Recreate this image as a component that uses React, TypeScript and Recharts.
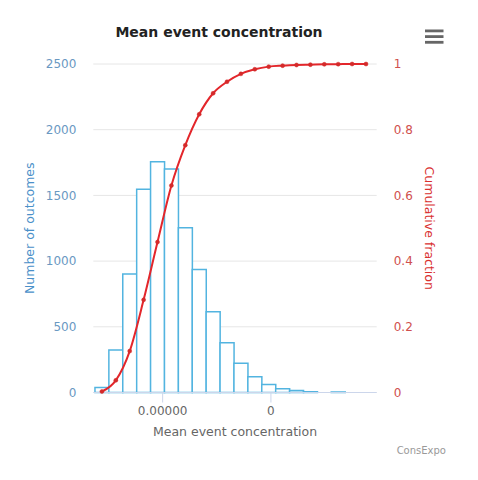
import React from 'react';
import { ComposedChart, Bar, Line, XAxis, YAxis, CartesianGrid } from 'recharts';

// Bin centres (concentration axis, in bin units) and values
const binCenters = [0.5, 1.5, 2.5, 3.5, 4.5, 5.5, 6.5, 7.5, 8.5, 9.5, 10.5, 11.5, 12.5, 13.5, 14.5, 15.5, 16.5, 17.5, 18.5, 19.5];
const counts = [39, 323, 902, 1546, 1757, 1701, 1254, 937, 615, 379, 222, 120, 61, 28, 15, 5, 0, 3, 0, 0];
const cumulative = [0.003, 0.037, 0.126, 0.282, 0.458, 0.63, 0.753, 0.847, 0.911, 0.946, 0.97, 0.984, 0.992, 0.995, 0.997, 0.998, 0.999, 0.9995, 1, 1];

const xTickValues = [4.87, 12.66];
const xTickLabels = ['0.00000', '0'];
const leftTicks = [0, 500, 1000, 1500, 2000, 2500];
const rightTicks = [0, 0.2, 0.4, 0.6, 0.8, 1];

const data = binCenters.map((x, i) => ({ x, count: counts[i], cum: cumulative[i] }));

const FONT = '"DejaVu Sans", Verdana, sans-serif';

const LeftTitle = (props: any) => {
  const vb = props.viewBox || {};
  const cx = vb.x + 29.5;
  const cy = vb.y + vb.height / 2;
  return (
    <text x={cx} y={cy} transform={`rotate(-90 ${cx} ${cy})`} textAnchor="middle" dominantBaseline="central"
      fontFamily={FONT} fontSize={12.5} fill="#4a90c9">Number of outcomes</text>
  );
};

const RightTitle = (props: any) => {
  const vb = props.viewBox || {};
  const cx = vb.x + 52.3;
  const cy = vb.y + vb.height / 2;
  return (
    <text x={cx} y={cy} transform={`rotate(90 ${cx} ${cy})`} textAnchor="middle" dominantBaseline="central"
      fontFamily={FONT} fontSize={12.5} fill="#d9302f">Cumulative fraction</text>
  );
};

const BottomTitle = (props: any) => {
  const vb = props.viewBox || {};
  const cx = vb.x + vb.width / 2;
  const cy = vb.y + 39.2;
  return (
    <text x={cx} y={cy} textAnchor="middle" dominantBaseline="central"
      fontFamily={FONT} fontSize={12.5} fill="#666666">Mean event concentration</text>
  );
};

export default function App() {
  return (
    <div style={{ position: 'absolute', left: 0, top: 0, width: 478, height: 480, background: '#fff' }}>
      <ComposedChart width={478} height={480} data={data} margin={{ top: 64, right: 0, bottom: 0, left: 0 }}
        barCategoryGap={0} barGap={0}>
        <CartesianGrid yAxisId="left" vertical={false} stroke="#e6e6e6" strokeWidth={1} />
        <XAxis dataKey="x" type="number" domain={[-0.12, 20.27]} allowDataOverflow ticks={xTickValues}
          tickFormatter={(v: number) => xTickLabels[xTickValues.indexOf(v)] ?? ''}
          height={87.5} axisLine={{ stroke: '#ccd6eb' }} tickLine={{ stroke: '#ccd6eb' }} tickSize={10} tickMargin={3.5}
          tick={{ fill: '#666666', fontSize: 12, fontFamily: FONT }} label={<BottomTitle />} />
        <YAxis yAxisId="left" orientation="left" width={93.3} domain={[0, 2500]} ticks={leftTicks}
          axisLine={false} tickLine={false} tickMargin={11} interval={0}
          tick={{ fill: '#6a98c2', fontSize: 12, fontFamily: FONT }} label={<LeftTitle />} />
        <YAxis yAxisId="right" orientation="right" width={101.3} domain={[0, 1]} ticks={rightTicks}
          axisLine={false} tickLine={false} tickMargin={11} interval={0}
          tick={{ fill: '#d0504d', fontSize: 12, fontFamily: FONT }} label={<RightTitle />} />
        <Bar yAxisId="left" dataKey="count" fill="#ffffff" stroke="#52b4e0" strokeWidth={1.5} isAnimationActive={false} />
        <Line yAxisId="right" dataKey="cum" type="monotone" stroke="#e3262b" strokeWidth={2}
          dot={{ r: 2, fill: '#d42a2a', stroke: '#d42a2a', strokeWidth: 0.5 }} activeDot={false} isAnimationActive={false} />
      </ComposedChart>
      <svg width={478} height={480} style={{ position: 'absolute', left: 0, top: 0, pointerEvents: 'none' }}>
        <text x={219} y={36.5} textAnchor="middle" fontFamily={FONT} fontSize={14} fontWeight="bold" fill="#222222">Mean event concentration</text>
        <rect x={425} y={29.5} width={18.5} height={2.8} fill="#666666" />
        <rect x={425} y={35.2} width={18.5} height={2.8} fill="#666666" />
        <rect x={425} y={40.9} width={18.5} height={2.8} fill="#666666" />
        <text x={446} y={454} textAnchor="end" fontFamily={FONT} fontSize={10} fill="#999999">ConsExpo</text>
      </svg>
    </div>
  );
}
